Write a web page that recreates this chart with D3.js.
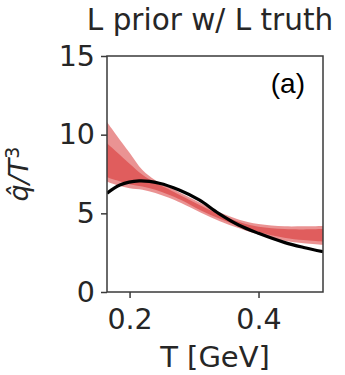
<!DOCTYPE html>
<html>
<head>
<meta charset="utf-8">
<script src="https://cdn.jsdelivr.net/npm/d3@7"></script>
<style>
  html, body { margin: 0; padding: 0; background: #fff; }
  svg { display: block; }
</style>
</head>
<body>
<svg id="chart" width="345" height="375"></svg>
<script>
// ---- data ----
const truthT   = [0.165, 0.185, 0.215, 0.246, 0.277, 0.308, 0.338, 0.369, 0.40, 0.441, 0.47, 0.50];
const truthVal = [6.27, 6.80, 7.06, 6.91, 6.48, 5.85, 5.00, 4.26, 3.73, 3.14, 2.83, 2.56];

const bandT   = [0.165, 0.18, 0.20, 0.22, 0.24, 0.26, 0.28, 0.31, 0.34, 0.37, 0.40, 0.44, 0.47, 0.50];
const outerLo = [7.0, 6.8, 6.6, 6.5, 6.3, 6.0, 5.65, 5.05, 4.5, 4.05, 3.65, 3.25, 3.1, 3.0];
const outerHi = [10.8, 9.95, 8.85, 7.75, 7.1, 6.7, 6.27, 5.65, 5.05, 4.6, 4.32, 4.18, 4.18, 4.2];
const innerLo = [7.3, 7.1, 6.85, 6.7, 6.5, 6.2, 5.85, 5.2, 4.65, 4.2, 3.82, 3.45, 3.3, 3.2];
const innerHi = [9.45, 8.9, 8.15, 7.45, 6.95, 6.55, 6.12, 5.5, 4.92, 4.45, 4.15, 4.0, 3.98, 4.0];

const xTicks = [0.2, 0.4];
const yTicks = [0, 5, 10, 15];
const titleText = "L prior w/ L truth";
const xLabelText = "T [GeV]";
const panelTag = "(a)";

// ---- layout ----
const svg = d3.select("#chart");
const W = 345, H = 375;
const m = {left: 107, top: 56, right: 22, bottom: 83};
const iw = W - m.left - m.right, ih = H - m.top - m.bottom;
const textColor = "#262626", axisColor = "#3a3a3a";
const font = "'DejaVu Sans', sans-serif";

const x = d3.scaleLinear().domain([0.165, 0.5]).range([0, iw]);
const y = d3.scaleLinear().domain([0, 15]).range([ih, 0]);

const g = svg.append("g").attr("transform", `translate(${m.left},${m.top})`);

g.append("clipPath").attr("id", "clip")
  .append("rect").attr("width", iw).attr("height", ih);

const plot = g.append("g").attr("clip-path", "url(#clip)");

const bandColor = "#d62728";
function band(lo, hi) {
  return d3.area()
    .x((d, i) => x(bandT[i]))
    .y0((d, i) => y(lo[i]))
    .y1((d, i) => y(hi[i]))
    .curve(d3.curveCatmullRom)(bandT);
}
plot.append("path").attr("d", band(outerLo, outerHi))
  .attr("fill", bandColor).attr("fill-opacity", 0.5).attr("stroke", "none");
plot.append("path").attr("d", band(innerLo, innerHi))
  .attr("fill", bandColor).attr("fill-opacity", 0.5).attr("stroke", "none");

const line = d3.line()
  .x((d, i) => x(truthT[i]))
  .y((d, i) => y(truthVal[i]))
  .curve(d3.curveCatmullRom);
plot.append("path").attr("d", line(truthT))
  .attr("fill", "none").attr("stroke", "#000").attr("stroke-width", 3.2);

// ---- axes ----
const xAxis = g.append("g").attr("transform", `translate(0,${ih})`)
  .call(d3.axisBottom(x).tickValues(xTicks).tickFormat(d3.format(".1f")).tickSize(6).tickPadding(7));
const yAxis = g.append("g")
  .call(d3.axisLeft(y).tickValues(yTicks).tickFormat(d3.format("d")).tickSize(6).tickPadding(6));
[xAxis, yAxis].forEach(a => {
  a.select(".domain").remove();
  a.selectAll("line").attr("stroke", axisColor).attr("stroke-width", 1.5);
  a.selectAll("text").attr("fill", textColor).style("font-family", font).style("font-size", "28.5px");
});
xAxis.selectAll("text").attr("dy", "0.85em");

// frame (spines)
g.append("rect").attr("width", iw).attr("height", ih)
  .attr("fill", "none").attr("stroke", axisColor).attr("stroke-width", 1.5);

// ---- texts ----
svg.append("text").attr("x", 210).attr("y", 30)
  .attr("text-anchor", "middle").attr("fill", textColor)
  .style("font-family", font).style("font-size", "29.5px").text(titleText);

svg.append("text").attr("x", m.left + iw / 2).attr("y", 367)
  .attr("text-anchor", "middle").attr("fill", textColor)
  .style("font-family", font).style("font-size", "29px").text(xLabelText);

const yl = svg.append("text")
  .attr("transform", `translate(28,${m.top + ih / 2}) rotate(-90)`)
  .attr("text-anchor", "middle").attr("fill", textColor)
  .style("font-family", font).style("font-size", "27px").style("font-style", "italic");
yl.append("tspan").text("q\u0302/T");
yl.append("tspan").attr("dy", "-0.45em").style("font-size", "19px").style("font-style", "normal").text("3");

svg.append("text").attr("x", 305).attr("y", 93)
  .attr("text-anchor", "end").attr("fill", "#000")
  .style("font-family", "'Liberation Sans', Arial, sans-serif").style("font-size", "28px").text(panelTag);
</script>
</body>
</html>
